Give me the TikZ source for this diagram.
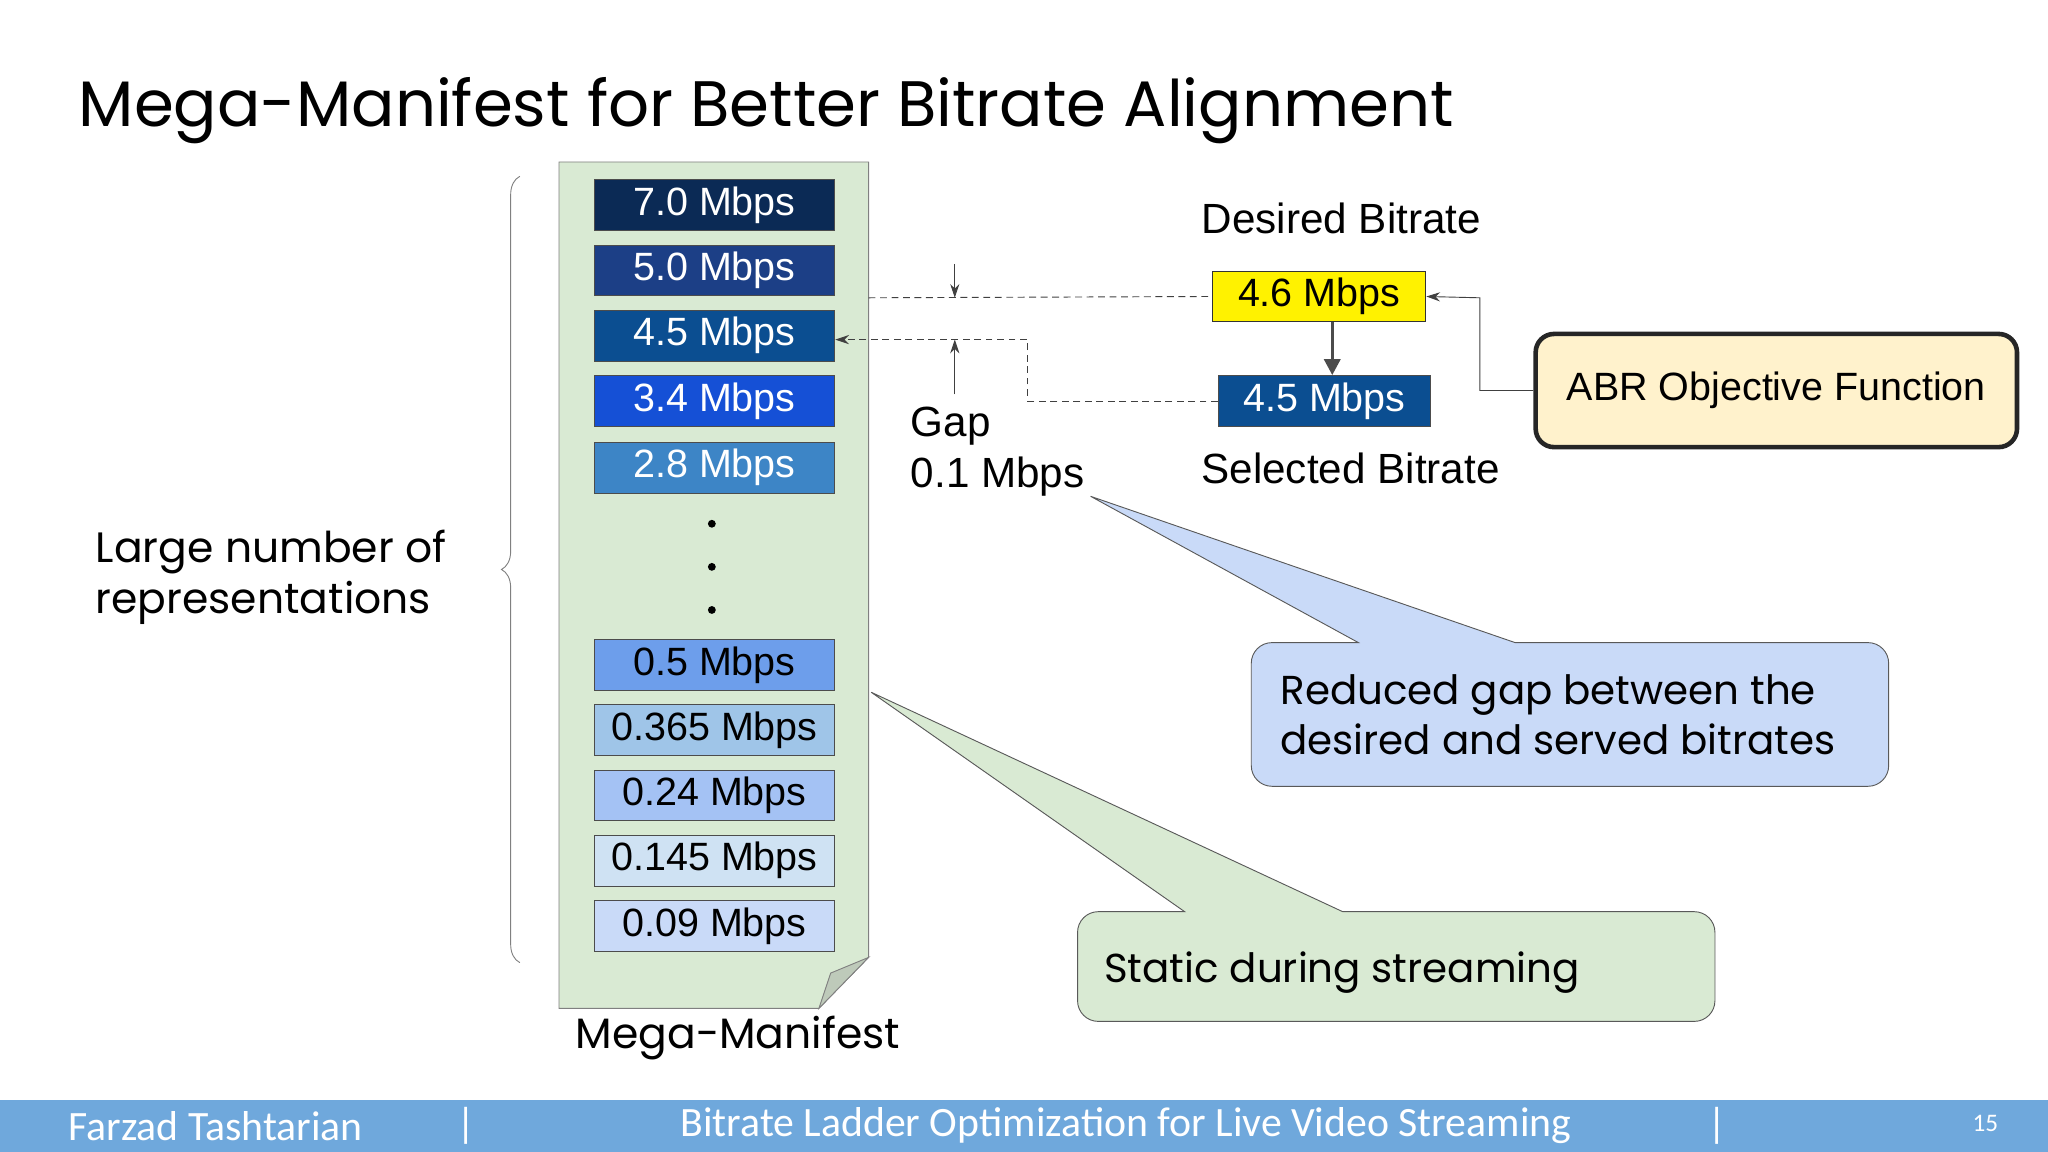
\documentclass[tikz,border=0pt]{standalone}
\usepackage{fontspec}
\setmainfont{Poppins}
\newfontfamily\arial{Liberation Sans}
\newfontfamily\foot{Carlito}
\usetikzlibrary{decorations.pathreplacing,arrows.meta}
\definecolor{mgreen}{HTML}{D9EAD3}
\definecolor{mblue}{HTML}{C9DAF8}
\definecolor{fbar}{HTML}{6FA8DC}
\definecolor{abr}{HTML}{FFF2CC}
\definecolor{selb}{HTML}{0B4E91}
\newlength\pgfxx \setlength\pgfxx{0.5669pt}
\tikzset{
 rate/.style={draw=gray!60!black,minimum width=185\pgfxx,minimum height=39\pgfxx,inner sep=0pt,font=\arial\fontsize{17.2}{18}\selectfont},
 lbl/.style={font=\arial\fontsize{18.4}{22}\selectfont,inner sep=0pt},
 dsh/.style={densely dashed,draw=gray!50!black,thin},
 gtip/.style={-{Stealth[length=6pt,width=4pt]},draw=gray!50!black,thin},
}
\begin{document}
\begin{tikzpicture}[x=0.02cm,y=-0.02cm]
\useasboundingbox (0,0) rectangle (1568,882);
\node[anchor=base west,inner sep=0,font=\fontsize{28}{32}\selectfont] (title) at (60,97) {Mega-Manifest for Better Bitrate Alignment};
% manifest document
\draw[fill=mgreen,draw=gray] (428,124) -- (665,124) -- (665,733) -- (627,772) -- (428,772) -- cycle;
\draw[fill=mgreen!70!gray,draw=gray] (665,733) -- (627,772) -- (636,745) -- cycle;
\foreach \n/\y/\c/\t/\tc in {a/157/0B2A55/7.0/white,b/207/1C3F86/5.0/white,c/257/0B4E91/4.5/white,d/307/1550D6/3.4/white,e/358/3D85C6/2.8/white,f/509/6D9EEB/0.5/black,g/559/9FC5E8/0.365/black,h/609/A4C2F4/0.24/black,i/659/CFE2F3/0.145/black,j/709/C9DAF8/0.09/black}{
 \definecolor{tmp}{HTML}{\c}
 \node[rate,fill=tmp,text=\tc] (r\n) at (547,\y) {\t{} Mbps};
}
\foreach \y in {401,434,467} \fill (545,\y) circle (3);
\draw[gray,decorate,decoration={brace,amplitude=8pt,mirror}] (398,135) -- (398,737);
\node[anchor=base west,inner sep=0,align=left,font=\fontsize{18.5}{22.5}\selectfont] (lg) at (73,470) {Large number of\\representations};
\node[font=\fontsize{18.5}{20}\selectfont] (mm) at (565,795) {Mega-Manifest};
% bitrates
\node[lbl] (db) at (1027,167) {Desired Bitrate};
\node[rate,minimum width=164\pgfxx,fill=yellow,draw=gray!40!black] (yb) at (1010,227) {4.6 Mbps};
\node[rate,minimum width=163\pgfxx,fill=selb,text=white] (sb) at (1014,307) {4.5 Mbps};
\node[lbl] (sbl) at (1034,359) {Selected Bitrate};
\draw[-{Triangle[length=7pt,width=7pt]},line width=1.5pt,gray!60!black] (yb.south -| 1020,0) -- (sb.north -| 1020,0);
\node[draw=gray!30!black,line width=2pt,rounded corners=8pt,fill=abr,minimum width=370\pgfxx,minimum height=87\pgfxx,font=\arial\fontsize{17.2}{18}\selectfont] (abr) at (1360,299) {ABR Objective Function};
\draw[gtip] (abr.west) -| (1133,228) -- (yb.east);
\coordinate (m1) at (665,228);
\draw[dsh] (m1) -- (yb.west);
\draw[dsh,gtip,densely dashed] (sb.west) -| (787,260) -- (rc.east |- 787,260);
\coordinate (g1) at (731,202); \coordinate (g2) at (731,228);
\coordinate (g3) at (731,302); \coordinate (g4) at (731,260);
\draw[gtip] (g1) -- (g2);
\draw[gtip] (g3) -- (g4);
\node[lbl,anchor=base west,align=left] (gap) at (697,373) {Gap\\0.1 Mbps};
% callouts
\draw[fill=mblue,draw=gray!70!black] (1040,492) -- (835,380) -- (1160,492) [rounded corners=9pt] -- (1446,492) -- (1446,602) -- (958,602) -- (958,492) [sharp corners] -- (1040,492) -- cycle;
\node[anchor=base west,inner sep=0,align=left,font=\fontsize{17.6}{22}\selectfont] (ct1) at (980,578) {Reduced gap between the\\desired and served bitrates};
\draw[fill=mgreen,draw=gray!70!black] (907,698) -- (667,530) -- (1028,698) [rounded corners=9pt] -- (1313,698) -- (1313,782) -- (825,782) -- (825,698) [sharp corners] -- (907,698) -- cycle;
\node[anchor=base west,inner sep=0,font=\fontsize{17.6}{20}\selectfont] (ct2) at (845,752) {Static during streaming};
% footer
\fill[fbar] (0,842) rectangle (1568,882);
\begin{scope}[every node/.style={text=white,font=\foot\fontsize{18.2}{20}\selectfont,inner sep=0}]
\node[anchor=west] (f1) at (52,862) {Farzad Tashtarian};
\node (f2) at (357,862) {|};
\node (f3) at (862,862) {Bitrate Ladder Optimization for Live Video Streaming};
\node (f4) at (1315,862) {|};
\node[font=\foot\fontsize{11}{12}\selectfont] (f5) at (1520,860) {15};
\end{scope}
\end{tikzpicture}
\end{document}
